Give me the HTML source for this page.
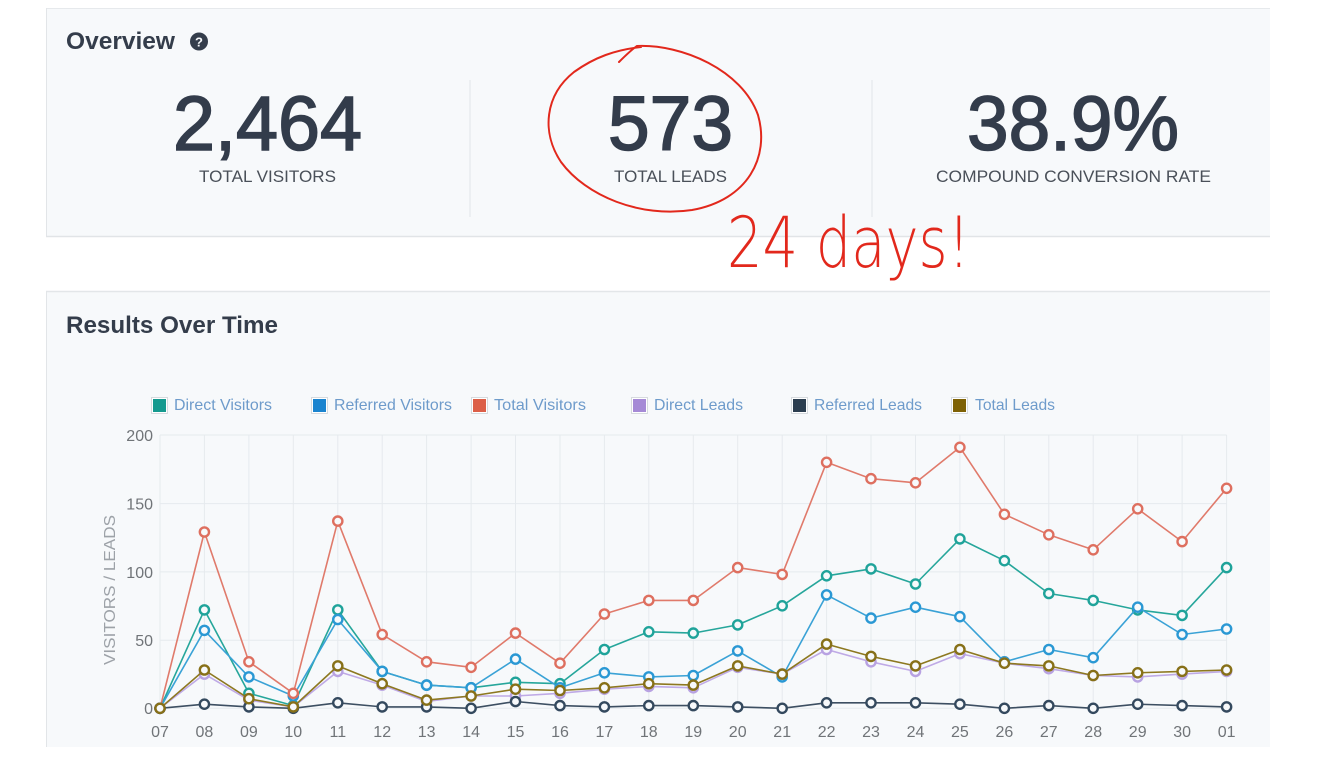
<!DOCTYPE html>
<html>
<head>
<meta charset="utf-8">
<style>
  html,body{margin:0;padding:0;background:#ffffff;}
  body{width:1317px;height:769px;overflow:hidden;}
  svg{display:block;font-family:"Liberation Sans", sans-serif;}
</style>
</head>
<body>
<svg width="1317" height="769" viewBox="0 0 1317 769" xmlns="http://www.w3.org/2000/svg">
  <defs>
    <marker id="mDV" markerWidth="14" markerHeight="14" refX="7" refY="7" markerUnits="userSpaceOnUse"><circle cx="7" cy="7" r="4.6" fill="#f7f9fb" stroke="#1fa39a" stroke-width="2.4"/></marker>
    <marker id="mRV" markerWidth="14" markerHeight="14" refX="7" refY="7" markerUnits="userSpaceOnUse"><circle cx="7" cy="7" r="4.6" fill="#f7f9fb" stroke="#2a98d4" stroke-width="2.4"/></marker>
    <marker id="mTV" markerWidth="14" markerHeight="14" refX="7" refY="7" markerUnits="userSpaceOnUse"><circle cx="7" cy="7" r="4.6" fill="#f7f9fb" stroke="#de6f5f" stroke-width="2.4"/></marker>
    <marker id="mDL" markerWidth="14" markerHeight="14" refX="7" refY="7" markerUnits="userSpaceOnUse"><circle cx="7" cy="7" r="4.6" fill="#f7f9fb" stroke="#b8a2e2" stroke-width="2.4"/></marker>
    <marker id="mRL" markerWidth="14" markerHeight="14" refX="7" refY="7" markerUnits="userSpaceOnUse"><circle cx="7" cy="7" r="4.6" fill="#f7f9fb" stroke="#34495e" stroke-width="2.4"/></marker>
    <marker id="mTL" markerWidth="14" markerHeight="14" refX="7" refY="7" markerUnits="userSpaceOnUse"><circle cx="7" cy="7" r="4.6" fill="#f7f9fb" stroke="#877018" stroke-width="2.4"/></marker>
  </defs>

  <!-- Panel 1: Overview -->
  <rect x="46" y="8" width="1224" height="228.5" fill="#f7f9fb"/>
  <line x1="46" y1="8.5" x2="1270" y2="8.5" stroke="#e6e9ec" stroke-width="1"/>
  <line x1="46.5" y1="8" x2="46.5" y2="237" stroke="#e2e5e8" stroke-width="1"/>
  <line x1="46" y1="236.5" x2="1270" y2="236.5" stroke="#e1e4e7" stroke-width="1.5"/>

  <text x="66" y="49" font-size="24" font-weight="bold" fill="#343d4b" textLength="109" lengthAdjust="spacingAndGlyphs">Overview</text>
  <circle cx="199" cy="41.5" r="9" fill="#343d4b"/>
  <text x="199" y="46.5" font-size="13" font-weight="bold" fill="#f7f9fb" text-anchor="middle">?</text>

  <line x1="470" y1="80" x2="470" y2="217" stroke="#e1e5e9" stroke-width="1"/>
  <line x1="872" y1="80" x2="872" y2="217" stroke="#e1e5e9" stroke-width="1"/>

  <g fill="#333c4b" stroke="#333c4b" stroke-width="1.6">
    <text x="173" y="150" font-size="77" textLength="189" lengthAdjust="spacingAndGlyphs">2,464</text>
    <text x="608" y="150" font-size="77" textLength="125" lengthAdjust="spacingAndGlyphs">573</text>
    <text x="967" y="150" font-size="77" textLength="212" lengthAdjust="spacingAndGlyphs">38.9%</text>
  </g>
  <text x="199" y="182" font-size="17" fill="#4a5059" textLength="137" lengthAdjust="spacingAndGlyphs">TOTAL VISITORS</text>
  <text x="614" y="182" font-size="17" fill="#4a5059" textLength="113" lengthAdjust="spacingAndGlyphs">TOTAL LEADS</text>
  <text x="936" y="182" font-size="17" fill="#4a5059" textLength="275" lengthAdjust="spacingAndGlyphs">COMPOUND CONVERSION RATE</text>

  <!-- Panel 2: Results Over Time -->
  <rect x="46" y="291" width="1224" height="456" fill="#f7f9fb"/>
  <line x1="46" y1="291.5" x2="1270" y2="291.5" stroke="#e3e6e9" stroke-width="1.5"/>
  <line x1="46.5" y1="291" x2="46.5" y2="747" stroke="#e2e5e8" stroke-width="1"/>

  <text x="66" y="333" font-size="24" font-weight="bold" fill="#343d4b" textLength="212" lengthAdjust="spacingAndGlyphs">Results Over Time</text>

  <!-- Legend -->
  <g font-size="16" fill="#6e9bcb">
    <rect x="151.5" y="397.5" width="16" height="16" fill="#ffffff" stroke="#d6dade"/>
    <rect x="153" y="399" width="13" height="13" fill="#159a8f"/>
    <text x="174" y="410" textLength="98" lengthAdjust="spacingAndGlyphs">Direct Visitors</text>

    <rect x="311.5" y="397.5" width="16" height="16" fill="#ffffff" stroke="#d6dade"/>
    <rect x="313" y="399" width="13" height="13" fill="#1b84cf"/>
    <text x="334" y="410" textLength="118" lengthAdjust="spacingAndGlyphs">Referred Visitors</text>

    <rect x="471.5" y="397.5" width="16" height="16" fill="#ffffff" stroke="#d6dade"/>
    <rect x="473" y="399" width="13" height="13" fill="#dc5f48"/>
    <text x="494" y="410" textLength="92" lengthAdjust="spacingAndGlyphs">Total Visitors</text>

    <rect x="631.5" y="397.5" width="16" height="16" fill="#ffffff" stroke="#d6dade"/>
    <rect x="633" y="399" width="13" height="13" fill="#a58ad6"/>
    <text x="654" y="410" textLength="89" lengthAdjust="spacingAndGlyphs">Direct Leads</text>

    <rect x="791.5" y="397.5" width="16" height="16" fill="#ffffff" stroke="#d6dade"/>
    <rect x="793" y="399" width="13" height="13" fill="#2c3e50"/>
    <text x="814" y="410" textLength="108" lengthAdjust="spacingAndGlyphs">Referred Leads</text>

    <rect x="951.5" y="397.5" width="16" height="16" fill="#ffffff" stroke="#d6dade"/>
    <rect x="953" y="399" width="13" height="13" fill="#7e6105"/>
    <text x="975" y="410" textLength="80" lengthAdjust="spacingAndGlyphs">Total Leads</text>
  </g>

  <!-- Grid -->
  <g stroke="#e6eaee" stroke-width="1">
    <line x1="160" y1="435" x2="1226.6" y2="435"/>
    <line x1="160" y1="503.6" x2="1226.6" y2="503.6"/>
    <line x1="160" y1="571.9" x2="1226.6" y2="571.9"/>
    <line x1="160" y1="640.2" x2="1226.6" y2="640.2"/>
    <line x1="160" y1="708.3" x2="1226.6" y2="708.3"/>
    <line x1="160" y1="435" x2="160" y2="708.3"/>
    <line x1="204.4" y1="435" x2="204.4" y2="708.3"/>
    <line x1="248.9" y1="435" x2="248.9" y2="708.3"/>
    <line x1="293.3" y1="435" x2="293.3" y2="708.3"/>
    <line x1="337.8" y1="435" x2="337.8" y2="708.3"/>
    <line x1="382.2" y1="435" x2="382.2" y2="708.3"/>
    <line x1="426.6" y1="435" x2="426.6" y2="708.3"/>
    <line x1="471.1" y1="435" x2="471.1" y2="708.3"/>
    <line x1="515.5" y1="435" x2="515.5" y2="708.3"/>
    <line x1="560" y1="435" x2="560" y2="708.3"/>
    <line x1="604.4" y1="435" x2="604.4" y2="708.3"/>
    <line x1="648.8" y1="435" x2="648.8" y2="708.3"/>
    <line x1="693.3" y1="435" x2="693.3" y2="708.3"/>
    <line x1="737.7" y1="435" x2="737.7" y2="708.3"/>
    <line x1="782.2" y1="435" x2="782.2" y2="708.3"/>
    <line x1="826.6" y1="435" x2="826.6" y2="708.3"/>
    <line x1="871" y1="435" x2="871" y2="708.3"/>
    <line x1="915.5" y1="435" x2="915.5" y2="708.3"/>
    <line x1="959.9" y1="435" x2="959.9" y2="708.3"/>
    <line x1="1004.4" y1="435" x2="1004.4" y2="708.3"/>
    <line x1="1048.8" y1="435" x2="1048.8" y2="708.3"/>
    <line x1="1093.2" y1="435" x2="1093.2" y2="708.3"/>
    <line x1="1137.7" y1="435" x2="1137.7" y2="708.3"/>
    <line x1="1182.1" y1="435" x2="1182.1" y2="708.3"/>
    <line x1="1226.6" y1="435" x2="1226.6" y2="708.3"/>
  </g>

  <!-- Y axis ticks -->
  <g font-size="16" fill="#707478" text-anchor="end">
    <text x="153" y="441">200</text>
    <text x="153" y="509.5">150</text>
    <text x="153" y="578">100</text>
    <text x="153" y="646">50</text>
    <text x="153" y="714">0</text>
  </g>
  <text transform="translate(115,590) rotate(-90)" font-size="16" fill="#9da2a8" text-anchor="middle" textLength="150" lengthAdjust="spacingAndGlyphs">VISITORS / LEADS</text>

  <!-- X axis ticks -->
  <g font-size="16" fill="#707478" text-anchor="middle">
    <text x="160" y="737">07</text>
    <text x="204.4" y="737">08</text>
    <text x="248.9" y="737">09</text>
    <text x="293.3" y="737">10</text>
    <text x="337.8" y="737">11</text>
    <text x="382.2" y="737">12</text>
    <text x="426.6" y="737">13</text>
    <text x="471.1" y="737">14</text>
    <text x="515.5" y="737">15</text>
    <text x="560" y="737">16</text>
    <text x="604.4" y="737">17</text>
    <text x="648.8" y="737">18</text>
    <text x="693.3" y="737">19</text>
    <text x="737.7" y="737">20</text>
    <text x="782.2" y="737">21</text>
    <text x="826.6" y="737">22</text>
    <text x="871" y="737">23</text>
    <text x="915.5" y="737">24</text>
    <text x="959.9" y="737">25</text>
    <text x="1004.4" y="737">26</text>
    <text x="1048.8" y="737">27</text>
    <text x="1093.2" y="737">28</text>
    <text x="1137.7" y="737">29</text>
    <text x="1182.1" y="737">30</text>
    <text x="1226.6" y="737">01</text>
  </g>

  <!-- Series -->
  <g fill="none" stroke-width="1.6" stroke-linejoin="round">
    <!-- Direct Visitors -->
    <polyline stroke="#26a69b" marker-start="url(#mDV)" marker-mid="url(#mDV)" marker-end="url(#mDV)"
      points="160,708.3 204.4,609.9 248.9,693.3 293.3,705.6 337.8,609.9 382.2,671.4 426.6,685.1 471.1,687.8 515.5,682.3 560,683.7 604.4,649.5 648.8,631.8 693.3,633.1 737.7,624.9 782.2,605.8 826.6,575.8 871,568.9 915.5,584.0 959.9,538.9 1004.4,560.7 1048.8,593.5 1093.2,600.4 1137.7,609.9 1182.1,615.4 1226.6,567.6"/>
    <!-- Referred Visitors -->
    <polyline stroke="#3aa2d6" marker-start="url(#mRV)" marker-mid="url(#mRV)" marker-end="url(#mRV)"
      points="160,708.3 204.4,630.4 248.9,676.9 293.3,696.0 337.8,619.5 382.2,671.4 426.6,685.1 471.1,687.8 515.5,659.1 560,687.8 604.4,672.8 648.8,676.9 693.3,675.5 737.7,650.9 782.2,676.9 826.6,594.9 871,618.1 915.5,607.2 959.9,616.7 1004.4,661.8 1048.8,649.5 1093.2,657.7 1137.7,607.2 1182.1,634.5 1226.6,629.0"/>
    <!-- Total Visitors -->
    <polyline stroke="#e07a6b" marker-start="url(#mTV)" marker-mid="url(#mTV)" marker-end="url(#mTV)"
      points="160,708.3 204.4,532.0 248.9,661.8 293.3,693.3 337.8,521.1 382.2,634.5 426.6,661.8 471.1,667.3 515.5,633.1 560,663.2 604.4,614.0 648.8,600.4 693.3,600.4 737.7,567.6 782.2,574.4 826.6,462.3 871,478.7 915.5,482.8 959.9,447.3 1004.4,514.3 1048.8,534.8 1093.2,549.8 1137.7,508.8 1182.1,541.6 1226.6,488.3"/>
    <!-- Direct Leads -->
    <polyline stroke="#bfaae6" marker-start="url(#mDL)" marker-mid="url(#mDL)" marker-end="url(#mDL)"
      points="160,708.3 204.4,674.1 248.9,700.1 293.3,706.9 337.8,671.4 382.2,685.1 426.6,701.5 471.1,696.0 515.5,696.0 560,693.3 604.4,689.2 648.8,686.4 693.3,687.8 737.7,667.3 782.2,674.1 826.6,649.5 871,661.8 915.5,671.4 959.9,653.6 1004.4,663.2 1048.8,668.7 1093.2,675.5 1137.7,676.9 1182.1,674.1 1226.6,671.4"/>
    <!-- Referred Leads -->
    <polyline stroke="#3d4f62" marker-start="url(#mRL)" marker-mid="url(#mRL)" marker-end="url(#mRL)"
      points="160,708.3 204.4,704.2 248.9,706.9 293.3,708.3 337.8,702.8 382.2,706.9 426.6,706.9 471.1,708.3 515.5,701.5 560,705.6 604.4,706.9 648.8,705.6 693.3,705.6 737.7,706.9 782.2,708.3 826.6,702.8 871,702.8 915.5,702.8 959.9,704.2 1004.4,708.3 1048.8,705.6 1093.2,708.3 1137.7,704.2 1182.1,705.6 1226.6,706.9"/>
    <!-- Total Leads -->
    <polyline stroke="#8d7820" marker-start="url(#mTL)" marker-mid="url(#mTL)" marker-end="url(#mTL)"
      points="160,708.3 204.4,670.0 248.9,698.7 293.3,706.9 337.8,665.9 382.2,683.7 426.6,700.1 471.1,696.0 515.5,689.2 560,690.5 604.4,687.8 648.8,683.7 693.3,685.1 737.7,665.9 782.2,674.1 826.6,644.1 871,656.4 915.5,665.9 959.9,649.5 1004.4,663.2 1048.8,665.9 1093.2,675.5 1137.7,672.8 1182.1,671.4 1226.6,670.0"/>
  </g>

  <!-- Red hand-drawn annotation -->
  <path d="M 619 62 C 626 55, 631 50, 637 46 C 682 44, 742 70, 758 115 C 770 157, 748 200, 692 210 C 640 218, 586 196, 561 162 C 541 132, 545 95, 574 72 C 595 57, 615 50, 641 47"
        fill="none" stroke="#e2281c" stroke-width="2" stroke-linecap="round"/>
  <text x="727" y="267" font-size="70" font-weight="200" fill="#e2281c" font-family="'DejaVu Sans', 'Liberation Sans', sans-serif" textLength="243" lengthAdjust="spacingAndGlyphs">24 days!</text>
</svg>
</body>
</html>
